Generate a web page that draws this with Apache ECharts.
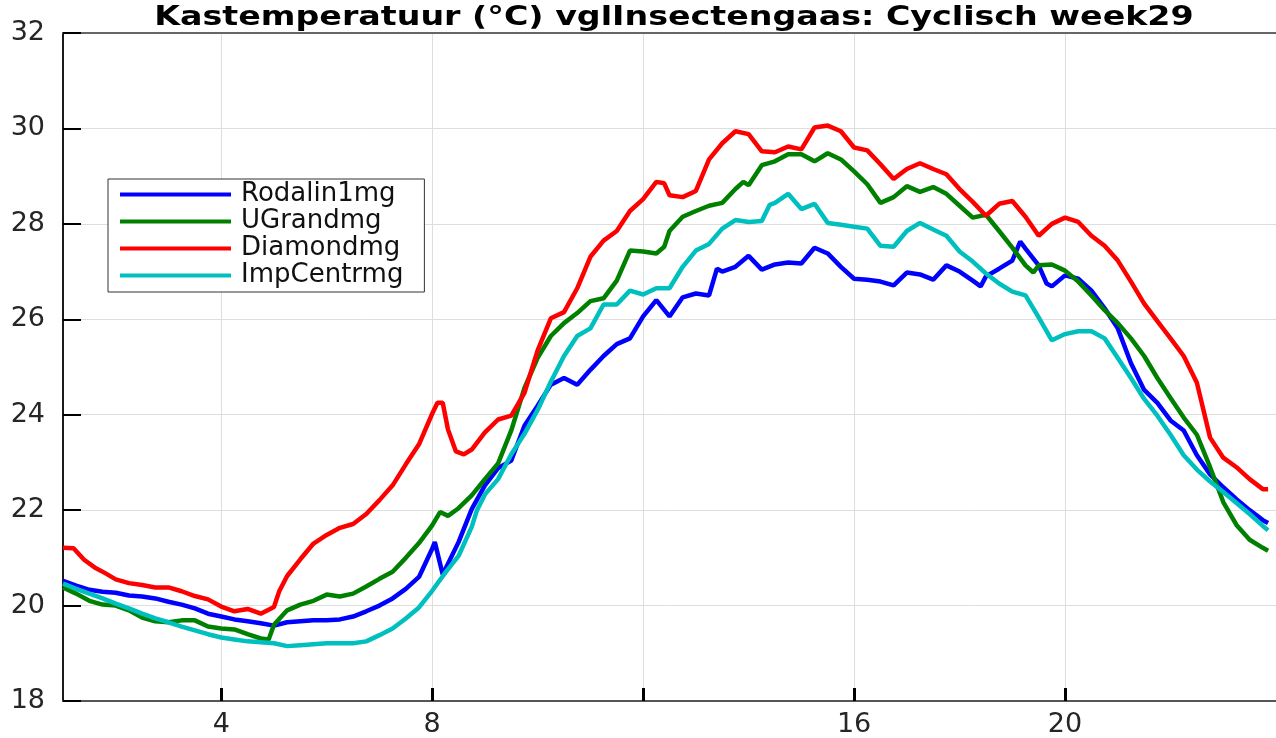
<!DOCTYPE html>
<html><head><meta charset="utf-8">
<script src="https://cdn.jsdelivr.net/npm/echarts@6/dist/echarts.min.js"></script>
<style>html,body{margin:0;padding:0;background:#fff}#c{width:1276px;height:738px}</style>
</head><body><div id="c"></div>
<script>
const titleText = 'Kastemperatuur (°C) vglInsectengaas: Cyclisch week29';
const seriesNames = ['Rodalin1mg', 'UGrandmg', 'Diamondmg', 'ImpCentrmg'];
const xTickValues = [4, 8, 12, 16, 20];
const xLabelValues = [4, 8, 16, 20];

const rodalinHours = [1,1.25,1.5,1.75,2,2.25,2.5,2.75,3,3.25,3.5,3.75,4,4.25,4.5,4.75,5,5.25,5.5,5.75,6,6.25,6.5,6.75,7,7.25,7.5,7.75,8,8.05,8.2,8.5,8.75,9,9.25,9.5,9.75,10,10.25,10.5,10.75,11,11.25,11.5,11.75,12,12.25,12.5,12.75,13,13.25,13.4,13.5,13.75,14,14.25,14.5,14.75,15,15.25,15.5,15.75,16,16.25,16.5,16.75,17,17.25,17.5,17.75,18,18.25,18.4,18.5,18.75,19,19.15,19.25,19.5,19.65,19.75,20,20.25,20.5,20.75,21,21.25,21.5,21.75,22,22.25,22.5,22.75,23,23.25,23.5,23.75,23.85];
const rodalinTemp = [20.52,20.42,20.33,20.29,20.27,20.21,20.19,20.15,20.08,20.02,19.94,19.83,19.77,19.71,19.67,19.63,19.58,19.65,19.67,19.69,19.69,19.71,19.77,19.88,20.0,20.15,20.35,20.6,21.19,21.33,20.65,21.33,22.02,22.52,22.88,23.04,23.77,24.19,24.63,24.77,24.63,24.94,25.23,25.48,25.6,26.06,26.4,26.06,26.46,26.54,26.5,27.06,27.0,27.1,27.33,27.04,27.15,27.19,27.17,27.5,27.38,27.1,26.85,26.83,26.79,26.71,26.98,26.94,26.83,27.13,27.0,26.81,26.69,26.9,27.06,27.23,27.63,27.48,27.13,26.75,26.69,26.92,26.85,26.6,26.23,25.81,25.08,24.52,24.25,23.88,23.67,23.15,22.75,22.48,22.23,22.0,21.79,21.73];

const ugrandHours = [1,1.25,1.5,1.75,2,2.25,2.5,2.75,3,3.25,3.5,3.75,4,4.25,4.5,4.75,4.9,5,5.25,5.5,5.75,6,6.25,6.5,6.75,7,7.25,7.5,7.75,8,8.15,8.3,8.5,8.75,9,9.25,9.5,9.75,10,10.25,10.5,10.75,11,11.25,11.5,11.75,12,12.25,12.4,12.5,12.75,13,13.25,13.5,13.75,13.9,14,14.25,14.5,14.75,15,15.25,15.5,15.75,16,16.25,16.5,16.75,17,17.25,17.5,17.75,18,18.25,18.5,18.75,19,19.25,19.4,19.5,19.75,20,20.25,20.5,20.75,21,21.25,21.5,21.75,22,22.25,22.5,22.75,23,23.25,23.5,23.75,23.85];
const ugrandTemp = [20.38,20.25,20.1,20.02,20.0,19.9,19.75,19.67,19.65,19.69,19.69,19.56,19.52,19.5,19.4,19.31,19.29,19.6,19.9,20.02,20.1,20.23,20.19,20.25,20.4,20.56,20.71,21.0,21.31,21.68,21.96,21.88,22.04,22.31,22.65,22.98,23.67,24.56,25.19,25.65,25.92,26.13,26.38,26.44,26.81,27.44,27.42,27.38,27.52,27.85,28.15,28.27,28.38,28.44,28.73,28.88,28.81,29.23,29.31,29.46,29.46,29.31,29.48,29.35,29.1,28.83,28.44,28.56,28.79,28.67,28.77,28.63,28.38,28.13,28.19,27.85,27.5,27.13,26.98,27.13,27.15,27.02,26.79,26.5,26.19,25.92,25.6,25.23,24.77,24.35,23.94,23.58,22.9,22.17,21.69,21.38,21.21,21.15];

const diamondHours = [1,1.2,1.4,1.6,1.8,2,2.25,2.5,2.75,3,3.25,3.5,3.75,4,4.25,4.5,4.75,5,5.1,5.25,5.5,5.75,6,6.25,6.5,6.75,7,7.25,7.5,7.75,8,8.1,8.2,8.3,8.45,8.6,8.75,9,9.25,9.5,9.75,10,10.25,10.5,10.75,11,11.25,11.5,11.75,12,12.25,12.4,12.5,12.75,13,13.25,13.5,13.75,14,14.25,14.5,14.75,15,15.25,15.5,15.75,16,16.25,16.5,16.75,17,17.25,17.5,17.75,18,18.25,18.5,18.75,19,19.25,19.5,19.75,20,20.25,20.5,20.75,21,21.25,21.5,21.75,22,22.25,22.5,22.75,23,23.25,23.5,23.75,23.85];
const diamondTemp = [21.21,21.2,20.96,20.8,20.68,20.55,20.47,20.43,20.38,20.38,20.3,20.2,20.13,19.98,19.88,19.93,19.83,19.97,20.3,20.62,20.97,21.3,21.48,21.63,21.71,21.92,22.21,22.52,22.96,23.38,24.02,24.25,24.25,23.69,23.23,23.17,23.27,23.63,23.9,23.98,24.46,25.35,26.02,26.15,26.65,27.31,27.65,27.85,28.27,28.52,28.88,28.85,28.6,28.56,28.69,29.35,29.69,29.94,29.88,29.52,29.5,29.62,29.56,30.02,30.06,29.94,29.6,29.54,29.25,28.94,29.15,29.27,29.15,29.04,28.73,28.46,28.17,28.42,28.48,28.15,27.75,28.0,28.13,28.04,27.75,27.54,27.23,26.79,26.33,25.96,25.6,25.23,24.67,23.52,23.1,22.9,22.65,22.44,22.44];

const impHours = [1,1.25,1.5,1.75,2,2.25,2.5,2.75,3,3.25,3.5,3.75,4,4.25,4.5,4.75,5,5.25,5.5,5.75,6,6.25,6.5,6.75,7,7.25,7.5,7.75,8,8.25,8.5,8.75,8.85,9,9.25,9.5,9.75,10,10.25,10.5,10.75,11,11.25,11.5,11.75,12,12.25,12.5,12.75,13,13.25,13.5,13.75,14,14.25,14.4,14.5,14.75,15,15.25,15.5,15.75,16,16.25,16.5,16.75,17,17.25,17.5,17.75,18,18.25,18.5,18.75,19,19.25,19.5,19.75,20,20.25,20.5,20.75,21,21.25,21.5,21.75,22,22.25,22.5,22.75,23,23.25,23.5,23.75,23.85];
const impTemp = [20.46,20.35,20.25,20.15,20.04,19.94,19.83,19.73,19.65,19.56,19.48,19.4,19.33,19.29,19.25,19.23,19.21,19.15,19.17,19.19,19.21,19.21,19.21,19.25,19.38,19.52,19.73,19.96,20.31,20.69,21.04,21.65,22.0,22.33,22.65,23.17,23.6,24.1,24.69,25.23,25.65,25.81,26.31,26.31,26.6,26.52,26.65,26.65,27.1,27.44,27.58,27.9,28.08,28.04,28.06,28.4,28.44,28.63,28.31,28.42,28.02,27.98,27.94,27.9,27.54,27.52,27.85,28.02,27.88,27.75,27.42,27.21,26.96,26.75,26.58,26.5,26.04,25.56,25.69,25.75,25.75,25.6,25.19,24.77,24.33,23.98,23.58,23.15,22.85,22.6,22.38,22.15,21.92,21.67,21.58];

const seriesColors = ['#0000ff', '#008000', '#ff0000', '#00bfbf'];
const seriesHours = [rodalinHours, ugrandHours, diamondHours, impHours];
const seriesTemps = [rodalinTemp, ugrandTemp, diamondTemp, impTemp];

const FONT = 'DejaVu Sans';
const chart = echarts.init(document.getElementById('c'), null, {renderer: 'canvas'});
const option = {
  animation: false,
  backgroundColor: '#ffffff',
  graphic: [{
    type: 'text', x: 674, y: 5, scaleX: 1.28, scaleY: 1, z: 100,
    style: {
      text: titleText, align: 'center', verticalAlign: 'top',
      fontFamily: FONT, fontWeight: 'bold', fontSize: 26, fill: '#000'
    }
  }],
  legend: {
    orient: 'vertical', left: 108, top: 179,
    data: seriesNames,
    icon: 'rect',
    itemWidth: 111, itemHeight: 4, itemGap: 0,
    padding: [2, 21, 3, 12],
    borderColor: '#333', borderWidth: 1, backgroundColor: '#fff',
    textStyle: {fontFamily: FONT, fontSize: 26, lineHeight: 27, color: '#111', padding: [0, 0, 0, 5]}
  },
  grid: {left: 63, top: 33, width: 1223, height: 672, containLabel: false},
  xAxis: [{
    type: 'value', min: 1, max: 24, position: 'bottom',
    axisLine: {show: true, lineStyle: {color: '#555', width: 2}},
    axisTick: {show: true, inside: true, length: 13, customValues: xTickValues, lineStyle: {color: '#000', width: 3}},
    axisLabel: {show: true, customValues: xLabelValues, margin: 10, fontFamily: FONT, fontSize: 27, color: '#262626'},
    splitLine: {show: true, lineStyle: {color: '#dedede', width: 1}}
  }, {
    type: 'value', min: 1, max: 24, position: 'top',
    axisLine: {show: true, onZero: false, lineStyle: {color: '#666', width: 2}},
    axisTick: {show: false}, axisLabel: {show: false}, splitLine: {show: false}
  }],
  yAxis: {
    type: 'value', min: 18, max: 32, interval: 2,
    axisLine: {show: true, lineStyle: {color: '#1a1a1a', width: 2}},
    axisTick: {show: true, inside: true, length: 18, lineStyle: {color: '#000', width: 2}},
    axisLabel: {margin: 18, fontFamily: FONT, fontSize: 27, color: '#262626'},
    splitLine: {show: true, lineStyle: {color: '#dedede', width: 1}}
  },
  series: seriesNames.map((name, i) => ({
    name: name, type: 'line', xAxisIndex: 0, showSymbol: false, symbol: 'none',
    data: seriesHours[i].map((h, k) => [h, seriesTemps[i][k]]),
    lineStyle: {color: seriesColors[i], width: 4.5},
    itemStyle: {color: seriesColors[i]},
    z: 2 + i
  }))
};
chart.setOption(option);
</script></body></html>
